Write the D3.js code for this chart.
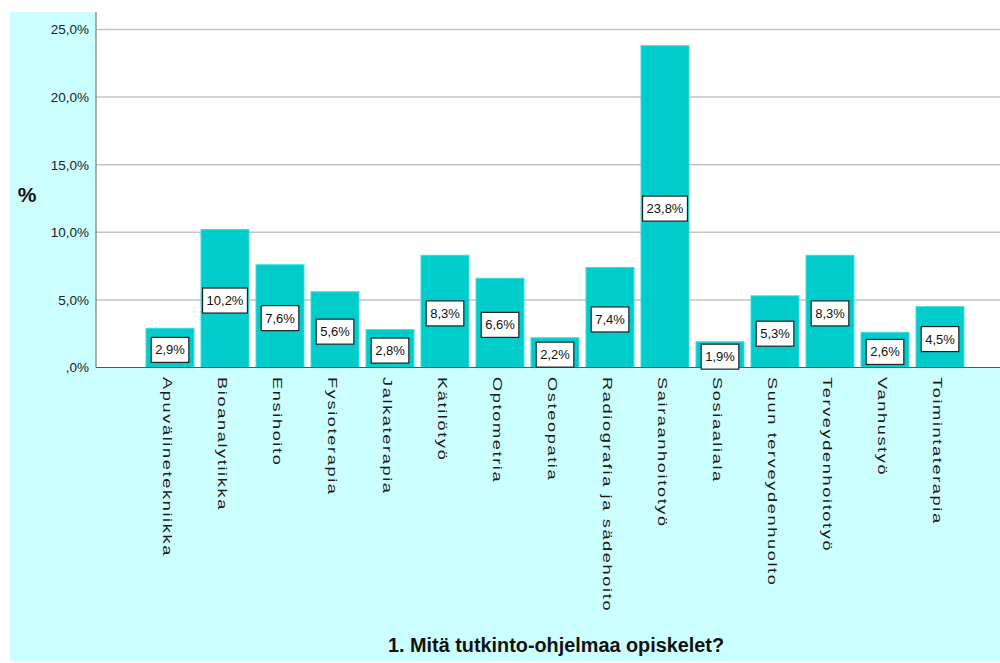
<!DOCTYPE html>
<html>
<head>
<meta charset="utf-8">
<script src="https://cdn.jsdelivr.net/npm/d3@7"></script>
<style>
  html, body { margin: 0; padding: 0; background: #fff; }
  svg { display: block; }
  text { font-family: Arial, "Liberation Sans", sans-serif; }
</style>
</head>
<body>
<div class="wrapper"></div>
<script>
const categories = [
    "Apuvälinetekniikka", "Bioanalytiikka", "Ensihoito", "Fysioterapia",
    "Jalkaterapia", "Kätilötyö", "Optometria", "Osteopatia",
    "Radiografia ja sädehoito", "Sairaanhoitotyö", "Sosiaaliala",
    "Suun terveydenhuolto", "Terveydenhoitotyö", "Vanhustyö", "Toimintaterapia"
];
const percents = [2.9, 10.2, 7.6, 5.6, 2.8, 8.3, 6.6, 2.2, 7.4, 23.8, 1.9, 5.3, 8.3, 2.6, 4.5];
const yTicks = [0, 5, 10, 15, 20, 25];
const yTitle = "%";
const xTitle = "1. Mitä tutkinto-ohjelmaa opiskelet?";

const W = 1000, H = 663;
const plot = {left: 96, top: 12, right: 1000, bottom: 367.5};

const fmt = v => (v === 0 ? "" : Math.floor(v)) + "," + Math.round((v % 1) * 10) + "%";

const svg = d3.select(".wrapper").append("svg")
    .attr("width", W)
    .attr("height", H);

// outer chart background
svg.append("rect")
    .attr("x", 10).attr("y", 12)
    .attr("width", W - 10).attr("height", 650)
    .attr("fill", "#ccffff");

// plot area
svg.append("rect")
    .attr("x", plot.left).attr("y", plot.top)
    .attr("width", plot.right - plot.left).attr("height", plot.bottom - plot.top)
    .attr("fill", "#ffffff");

const x = d3.scaleBand()
    .domain(categories)
    .range([142.5, 967.5])
    .paddingInner(7 / 55)
    .paddingOuter(3.5 / 55);

const y = d3.scaleLinear()
    .domain([0, 25])
    .range([plot.bottom, 29.5]);

// gridlines
svg.append("g")
    .selectAll("line")
    .data(yTicks.filter(d => d > 0))
    .join("line")
    .attr("x1", plot.left).attr("x2", plot.right)
    .attr("y1", d => y(d)).attr("y2", d => y(d))
    .attr("stroke", "#c4c4c4")
    .attr("stroke-width", 1.5);

// y axis
const yAxis = svg.append("g")
    .attr("transform", `translate(${plot.left},0)`)
    .call(d3.axisLeft(y).tickValues(yTicks).tickSize(0).tickPadding(7).tickFormat(d => fmt(d)));
yAxis.select(".domain").remove();
yAxis.selectAll("text")
    .attr("font-family", "Arial, 'Liberation Sans', sans-serif")
    .attr("font-size", 13.5)
    .attr("fill", "#222");

// bars
svg.append("g")
    .selectAll("rect")
    .data(percents)
    .join("rect")
    .attr("x", (d, i) => x(categories[i]))
    .attr("y", d => y(d))
    .attr("width", x.bandwidth())
    .attr("height", d => y(0) - y(d))
    .attr("fill", "#00cccc")
    .attr("stroke", "#40dada")
    .attr("stroke-width", 1);

// axis lines
svg.append("line")
    .attr("x1", plot.left).attr("x2", plot.left)
    .attr("y1", plot.top).attr("y2", plot.bottom)
    .attr("stroke", "#7a7a7a").attr("stroke-width", 1.2);
svg.append("line")
    .attr("x1", plot.left).attr("x2", plot.right)
    .attr("y1", plot.bottom).attr("y2", plot.bottom)
    .attr("stroke", "#555").attr("stroke-width", 1.2);

// value labels
const lab = svg.append("g")
    .selectAll("g")
    .data(percents)
    .join("g")
    .attr("transform", (d, i) =>
        `translate(${x(categories[i]) + x.bandwidth() / 2},${(y(d) + y(0)) / 2 + 2})`);

lab.append("rect").attr("class", "box");
lab.append("text")
    .attr("text-anchor", "middle")
    .attr("dominant-baseline", "central")
    .attr("font-size", 13)
    .attr("fill", "#111")
    .text(d => fmt(d));
lab.each(function () {
    const g = d3.select(this);
    const w = g.select("text").node().getComputedTextLength() + 8;
    g.select("rect")
        .attr("x", -w / 2).attr("y", -12.5)
        .attr("width", w).attr("height", 25)
        .attr("fill", "#fff")
        .attr("stroke", "#222")
        .attr("stroke-width", 1.2);
});

// category labels, rotated (reference text is stretched along the reading direction)
svg.append("g")
    .selectAll("text")
    .data(categories)
    .join("text")
    .attr("transform", d => `translate(${x(d) + x.bandwidth() / 2 - 2},377) rotate(90) scale(1.35,1)`)
    .attr("dominant-baseline", "central")
    .attr("font-size", 13.5)
    .attr("letter-spacing", 1.2)
    .attr("fill", "#1a1a1a")
    .text(d => d);

// axis titles
svg.append("text")
    .attr("x", 27).attr("y", 194)
    .attr("text-anchor", "middle")
    .attr("dominant-baseline", "central")
    .attr("font-size", 21)
    .attr("font-weight", "bold")
    .attr("fill", "#111")
    .text(yTitle);

svg.append("text")
    .attr("x", 388).attr("y", 645)
    .attr("dominant-baseline", "central")
    .attr("font-family", "'Liberation Sans Narrow', 'Arial Narrow', Arial, sans-serif")
    .attr("font-size", 20)
    .attr("font-weight", "bold")
    .attr("textLength", 336)
    .attr("lengthAdjust", "spacingAndGlyphs")
    .attr("fill", "#111")
    .text(xTitle);
</script>
</body>
</html>
